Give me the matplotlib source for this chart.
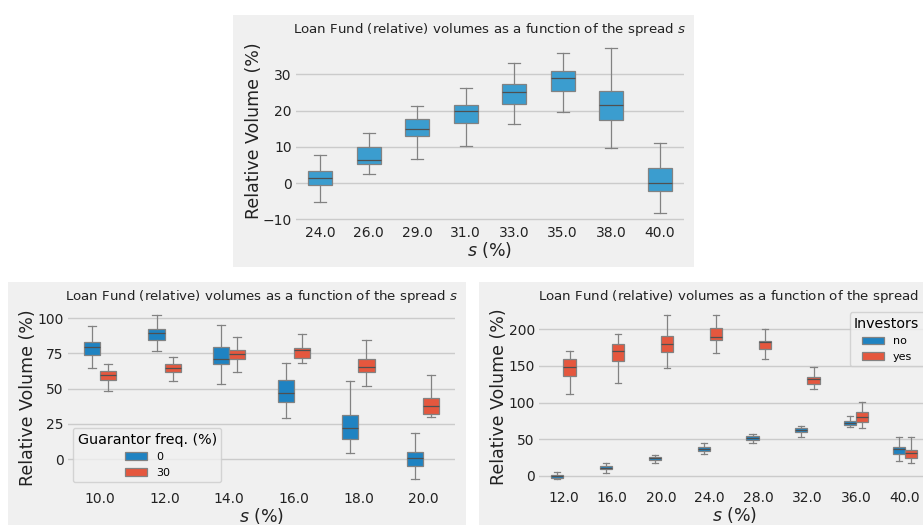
import matplotlib
matplotlib.use("Agg")
import matplotlib.pyplot as plt
from matplotlib.patches import Rectangle, Patch

W, H = 923, 525
BG = "#f0f0f0"
GRID = "#cbcbcb"
LINE = "#828282"
MED = "#505050"
TXT = "#222222"
TOP_BLUE = "#3b9dcf"
BLUE = "#1f83c2"
RED = "#e5573e"
TITLE = "Loan Fund (relative) volumes as a function of the spread $s$"

# --- top chart: spread s only ---
top_s = ["24.0", "26.0", "29.0", "31.0", "33.0", "35.0", "38.0", "40.0"]
top_lo = [-5.3, 2.6, 6.7, 10.2, 16.2, 19.7, 9.8, -8.2]
top_q1 = [-0.6, 5.3, 12.9, 16.6, 21.9, 25.5, 17.4, -2.3]
top_med = [1.4, 6.3, 14.9, 20.0, 25.0, 29.1, 21.5, 0.0]
top_q3 = [3.3, 10.0, 17.7, 21.6, 27.2, 31.0, 25.5, 4.2]
top_hi = [7.7, 13.7, 21.3, 26.2, 33.1, 35.8, 37.2, 11.1]

# --- bottom left: guarantor frequency 0 / 30 ---
guar_s = ["10.0", "12.0", "14.0", "16.0", "18.0", "20.0"]
guar_levels = ["0", "30"]
g0_lo = [65.0, 76.4, 53.0, 29.6, 4.7, -14.2]
g0_q1 = [74.0, 84.6, 67.6, 40.9, 14.4, -4.7]
g0_med = [79.9, 89.8, 71.2, 46.8, 22.5, 0.7]
g0_q3 = [83.0, 92.2, 79.7, 56.3, 31.7, 5.0]
g0_hi = [94.1, 102.1, 95.0, 68.1, 55.6, 18.9]
g30_lo = [48.2, 55.8, 61.5, 68.1, 52.0, 30.3]
g30_q1 = [56.3, 61.9, 71.4, 72.1, 61.7, 32.2]
g30_med = [59.8, 64.5, 74.7, 77.5, 65.7, 38.1]
g30_q3 = [62.6, 67.4, 77.5, 79.2, 71.2, 43.7]
g30_hi = [67.6, 72.8, 86.3, 88.7, 84.6, 59.8]

# --- bottom right: investors no / yes ---
inv_s = ["12.0", "16.0", "20.0", "24.0", "28.0", "32.0", "36.0", "40.0"]
inv_levels = ["no", "yes"]
no_lo = [-4.5, 4.5, 18.2, 29.5, 45.0, 52.7, 66.8, 20.5]
no_q1 = [-2.3, 9.1, 21.8, 34.5, 49.1, 60.0, 70.0, 30.0]
no_med = [-0.5, 11.4, 24.1, 37.3, 51.8, 63.2, 71.8, 36.4]
no_q3 = [1.4, 13.6, 25.9, 39.1, 54.1, 65.5, 74.5, 40.0]
no_hi = [5.0, 18.2, 28.6, 44.5, 57.7, 68.6, 81.8, 52.7]
yes_lo = [112.3, 126.4, 146.8, 167.3, 160.0, 118.2, 65.9, 17.3]
yes_q1 = [136.8, 157.3, 169.5, 185.5, 173.2, 125.0, 73.2, 24.1]
yes_med = [148.2, 170.9, 180.0, 190.0, 182.3, 132.3, 80.9, 30.9]
yes_q3 = [159.1, 179.5, 190.9, 201.4, 184.5, 135.5, 87.3, 35.5]
yes_hi = [170.9, 193.6, 219.1, 219.1, 200.0, 148.2, 101.4, 52.7]


def make_stats(lo, q1, med, q3, hi):
    return [dict(whislo=a, q1=b, med=c, q3=d, whishi=e, fliers=[])
            for a, b, c, d, e in zip(lo, q1, med, q3, hi)]


def panel(fig, l, t, r, b):
    # grey card behind each sub chart
    fig.add_artist(Rectangle((l / W, 1 - b / H), (r - l) / W, (b - t) / H,
                             transform=fig.transFigure, facecolor=BG,
                             edgecolor="none", zorder=0))


def px_axes(fig, l, t, r, b):
    ax = fig.add_axes([l / W, 1 - b / H, (r - l) / W, (b - t) / H])
    ax.set_facecolor(BG)
    for sp in ax.spines.values():
        sp.set_visible(False)
    ax.grid(axis="y", color=GRID, linewidth=1)
    ax.set_axisbelow(True)
    ax.tick_params(length=0, labelsize=10, colors=TXT, pad=3)
    return ax


def draw_boxes(ax, stats, positions, width, color):
    ax.bxp(stats, positions=positions, widths=width, patch_artist=True,
           showfliers=False, manage_ticks=False,
           boxprops=dict(facecolor=color, edgecolor=LINE, linewidth=0.9),
           whiskerprops=dict(color=LINE, linewidth=0.9),
           capprops=dict(color=LINE, linewidth=0.9),
           medianprops=dict(color=MED, linewidth=0.9))


def finish(ax, labels, ylim, ticks):
    ax.set_xticks(range(len(labels)))
    ax.set_xticklabels(labels)
    ax.set_xlim(-0.5, len(labels) - 0.5)
    ax.set_ylim(*ylim)
    ax.set_yticks(ticks)
    ax.set_title(TITLE, fontsize=9.6, color=TXT, pad=5)
    ax.set_xlabel("$s$ (%)", fontsize=12.5, color=TXT, labelpad=0)
    ax.set_ylabel("Relative Volume (%)", fontsize=12.5, color=TXT, labelpad=0)


fig = plt.figure(figsize=(W / 100, H / 100), dpi=100, facecolor="white")

panel(fig, 233, 15, 694, 267)
panel(fig, 8, 282, 466, 525)
panel(fig, 479, 282, 923, 525)

# top chart
ax1 = px_axes(fig, 296, 39.5, 684, 221.5)
draw_boxes(ax1, make_stats(top_lo, top_q1, top_med, top_q3, top_hi),
           range(len(top_s)), 0.5, TOP_BLUE)
finish(ax1, top_s, (-10.6, 39.6), [-10, 0, 10, 20, 30])

# bottom left
ax2 = px_axes(fig, 67.7, 307, 455.3, 487.5)
pos = list(range(len(guar_s)))
draw_boxes(ax2, make_stats(g0_lo, g0_q1, g0_med, g0_q3, g0_hi),
           [p - 0.125 for p in pos], 0.25, BLUE)
draw_boxes(ax2, make_stats(g30_lo, g30_q1, g30_med, g30_q3, g30_hi),
           [p + 0.125 for p in pos], 0.25, RED)
finish(ax2, guar_s, (-20, 107.9), [0, 25, 50, 75, 100])
handles = [Patch(facecolor=c, edgecolor=LINE, linewidth=0.9, label=lab)
           for c, lab in zip([BLUE, RED], guar_levels)]
ax2.legend(handles=handles, title="Guarantor freq. (%)", loc="lower left",
           bbox_to_anchor=(0.014, 0.03), borderaxespad=0, fontsize=8,
           title_fontsize=10.3, handlelength=2.0, facecolor=BG)

# bottom right (cut at the image edge like the reference)
ax3 = px_axes(fig, 539, 306.8, 929.4, 487)
pos = list(range(len(inv_s)))
draw_boxes(ax3, make_stats(no_lo, no_q1, no_med, no_q3, no_hi),
           [p - 0.125 for p in pos], 0.25, BLUE)
draw_boxes(ax3, make_stats(yes_lo, yes_q1, yes_med, yes_q3, yes_hi),
           [p + 0.125 for p in pos], 0.25, RED)
finish(ax3, inv_s, (-15.2, 230.7), [0, 50, 100, 150, 200])
handles = [Patch(facecolor=c, edgecolor=LINE, linewidth=0.9, label=lab)
           for c, lab in zip([BLUE, RED], inv_levels)]
ax3.legend(handles=handles, title="Investors", loc="upper right",
           fontsize=8, title_fontsize=10.3, handlelength=2.0, facecolor=BG)

fig.savefig("out.png", dpi=100, facecolor="white")
